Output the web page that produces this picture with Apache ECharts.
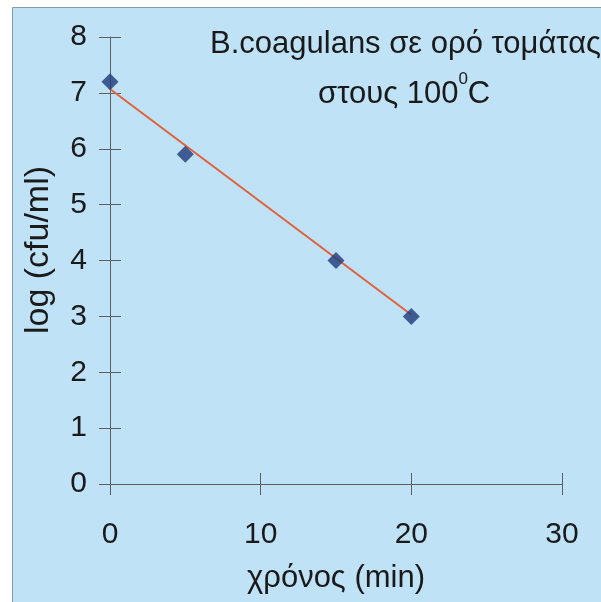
<!DOCTYPE html>
<html>
<head>
<meta charset="utf-8">
<script src="https://cdn.jsdelivr.net/npm/echarts@6/dist/echarts.min.js"></script>
<style>
html,body{margin:0;padding:0;background:#ffffff;}
#c{width:601px;height:602px;}
</style>
</head>
<body>
<div id="c"></div>
<script>
// Data
var times = [0, 5, 15, 20];
var logCounts = [7.2, 5.9, 4.0, 3.0];
var trendX = [0, 20];
var trendY = [7.07, 3.03];
var titleLine1 = 'B.coagulans σε ορό τομάτας';
var titleLine2a = 'στους 100';
var titleSup = '0';
var titleLine2b = 'C';
var xName = 'χρόνος (min)';
var yName = 'log (cfu/ml)';

var pts = times.map(function (t, i) { return [t, logCounts[i]]; });
var trend = trendX.map(function (t, i) { return [t, trendY[i]]; });

var FONT = '"Liberation Sans", Arial, sans-serif';
var TXT = '#1a1a1a';
var AX = '#5a5f66';

var chart = echarts.init(document.getElementById('c'), null, {renderer: 'canvas'});

function xAx(inside, labels) {
  return {
    type: 'value', min: 0, max: 30, interval: 10, position: 'bottom',
    axisLine: {show: !inside, onZero: false, lineStyle: {color: AX, width: 1}},
    axisTick: {show: true, inside: inside, length: 11, lineStyle: {color: AX, width: 1}},
    axisLabel: {show: labels, margin: 36, fontSize: 30, color: TXT, fontFamily: FONT},
    splitLine: {show: false},
    name: labels ? xName : '', nameLocation: 'middle', nameGap: 79,
    nameTextStyle: {fontSize: 31, color: TXT, fontFamily: FONT}
  };
}
function yAx(inside, labels) {
  return {
    type: 'value', min: 0, max: 8, interval: 1, position: 'left',
    axisLine: {show: !inside, onZero: false, lineStyle: {color: AX, width: 1}},
    axisTick: {show: true, inside: inside, length: 11, lineStyle: {color: AX, width: 1}},
    axisLabel: {show: labels, margin: 23, fontSize: 30, color: TXT, fontFamily: FONT},
    splitLine: {show: false}
  };
}

chart.setOption({
  backgroundColor: '#ffffff',
  animation: false,
  graphic: [
    {type: 'rect', z: -10, shape: {x: 12.5, y: 7.5, width: 620, height: 620},
     style: {fill: '#bfe2f6', stroke: '#8a98a6', lineWidth: 1}},
    {type: 'text', left: 210, top: 29, z: 10,
     style: {text: titleLine1, fontSize: 31, fill: TXT, fontFamily: FONT}},
    {type: 'text', left: 318, top: 68, z: 10,
     style: {
       text: '{a|' + titleLine2a + '}{s|' + titleSup + '}{a|' + titleLine2b + '}',
       fontFamily: FONT, fill: TXT,
       rich: {
         a: {fontSize: 31, fontFamily: FONT, fill: TXT, lineHeight: 42, verticalAlign: 'bottom'},
         s: {fontSize: 17, fontFamily: FONT, fill: TXT, lineHeight: 42, verticalAlign: 'top', padding: [3, 0, 0, 0]}
       }
     }},
    {type: 'text', x: 39, y: 250, rotation: Math.PI / 2, z: 10,
     style: {text: yName, fontSize: 34, fill: TXT, fontFamily: FONT, align: 'center', verticalAlign: 'middle'}}
  ],
  grid: {left: 110, top: 37, width: 452, height: 447, containLabel: false},
  xAxis: [xAx(false, true), xAx(true, false)],
  yAxis: [yAx(false, true), yAx(true, false)],
  series: [
    {type: 'line', data: trend, xAxisIndex: 0, yAxisIndex: 0, showSymbol: false, symbol: 'none',
     lineStyle: {color: '#e0623a', width: 2}, z: 2},
    {type: 'scatter', data: pts, xAxisIndex: 0, yAxisIndex: 0, symbol: 'diamond', symbolSize: 17,
     itemStyle: {color: '#1e3a7c'}, z: 3}
  ]
});
</script>
</body>
</html>
